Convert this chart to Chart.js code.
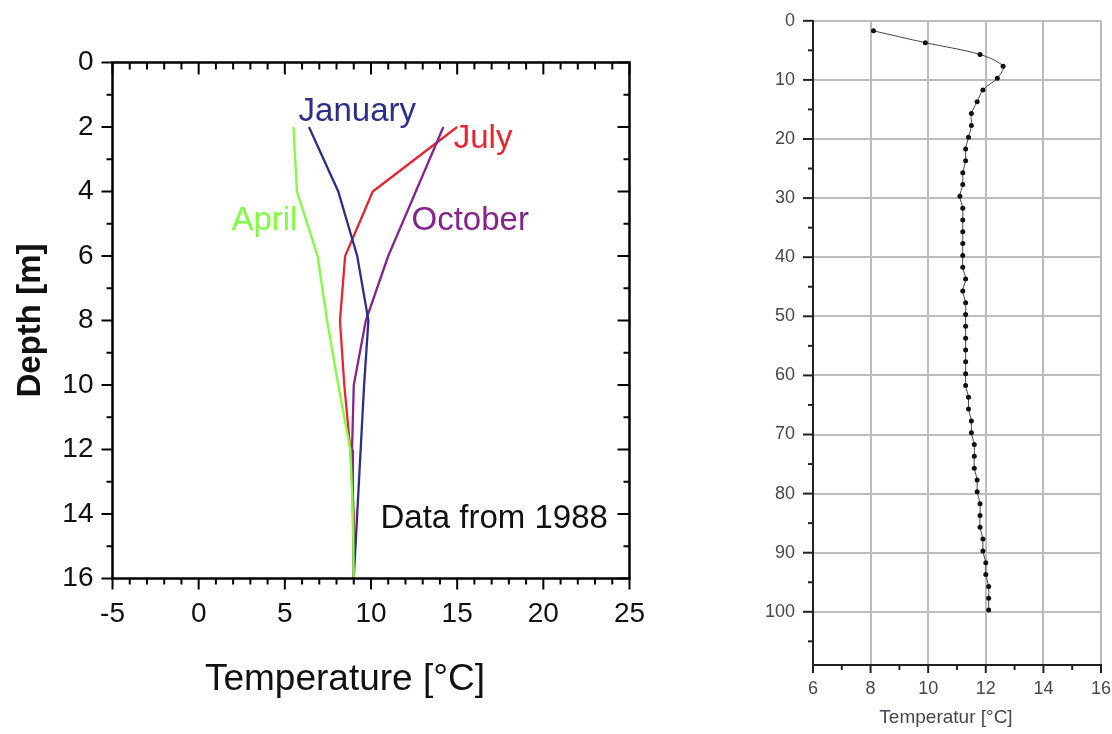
<!DOCTYPE html>
<html>
<head>
<meta charset="utf-8">
<script src="https://cdn.jsdelivr.net/npm/chart.js@4.4.1/dist/chart.umd.min.js"></script>
<style>
  html, body { margin: 0; padding: 0; background: #fff; }
  body { width: 1112px; height: 734px; position: relative; overflow: hidden; }
  .box { position: absolute; }
  #left { left: 0; top: 0; width: 740px; height: 734px; }
  #right { left: 740px; top: -8px; width: 384px; height: 742px; }
</style>
</head>
<body>
<div class="box" id="left"><canvas id="lakeChart"></canvas></div>
<div class="box" id="right"><canvas id="wellChart"></canvas></div>
<script>
const FONT = '"Liberation Sans", Arial, Helvetica, sans-serif';

// left panel - lake profiles, 1988
const depths = [2, 4, 6, 8, 10, 12, 14, 16];
const tempApril = [5.5, 5.7, 6.9, 7.45, 8.1, 8.8, 8.95, 9.0];
const tempJanuary = [6.4, 8.1, 9.2, 9.85, 9.6, 9.4, 9.2, 9.0];
const tempOctober = [14.2, 12.6, 11.0, 9.7, 9.0, 8.9, 8.95, 9.0];
const tempJuly = [15.0, 10.1, 8.5, 8.2, 8.45, 8.8, 9.0, 9.0];

const seriesNames = ['April', 'January', 'October', 'July'];
const seriesColors = ['#80ff40', '#2c2e8c', '#84248c', '#e82430'];
// where the series names sit (temperature, depth)
const noteTemps = [5.73, 5.8, 12.35, 14.8];
const noteDepths = [5.2, 1.82, 5.2, 2.65];

// right panel - borehole profile
const wellDepths = [1.7, 3.7, 5.7, 7.7, 9.7, 11.7, 13.7, 15.7, 17.7, 19.7,
  21.7, 23.7, 25.7, 27.7, 29.7, 31.7, 33.7, 35.7, 37.7, 39.7,
  41.7, 43.7, 45.7, 47.7, 49.7, 51.7, 53.7, 55.7, 57.7, 59.7,
  61.7, 63.7, 65.7, 67.7, 69.7, 71.7, 73.7, 75.7, 77.7, 79.7,
  81.7, 83.7, 85.7, 87.7, 89.7, 91.7, 93.7, 95.7, 97.7, 99.7];
const wellTemps = [8.1, 9.9, 11.8, 12.6, 12.4, 11.9, 11.7, 11.5, 11.5, 11.4,
  11.3, 11.3, 11.2, 11.2, 11.1, 11.2, 11.2, 11.2, 11.2, 11.2,
  11.2, 11.3, 11.2, 11.3, 11.3, 11.3, 11.3, 11.3, 11.3, 11.3,
  11.3, 11.4, 11.4, 11.5, 11.5, 11.6, 11.6, 11.6, 11.7, 11.7,
  11.8, 11.8, 11.8, 11.9, 11.9, 12.0, 12.0, 12.1, 12.1, 12.1];

function pairs(xs, ys) {
  return xs.map((x, i) => ({ x: x, y: ys[i] }));
}

// tick marks (major/minor, in or out) + optional frame
const tickMarks = {
  id: 'tickMarks',
  afterDraw(chart, args, opts) {
    const ctx = chart.ctx;
    const a = chart.chartArea;
    ctx.save();
    (opts.marks || []).forEach(m => {
      const scale = chart.scales[m.scale];
      const sign = (m.edge === 'bottom' || m.edge === 'right') ? 1 : -1;
      const dir = m.dir === 'out' ? sign : -sign;
      const n = Math.round((m.to - m.from) / m.step);
      ctx.lineWidth = m.width;
      ctx.strokeStyle = m.color;
      for (let i = 0; i <= n; i++) {
        const v = m.from + i * m.step;
        const r = v / m.major;
        const len = Math.abs(r - Math.round(r)) < 1e-6 ? m.majorLen : m.minorLen;
        const p = scale.getPixelForValue(v);
        ctx.beginPath();
        if (m.edge === 'bottom' || m.edge === 'top') {
          const y0 = m.edge === 'bottom' ? a.bottom : a.top;
          ctx.moveTo(p, y0);
          ctx.lineTo(p, y0 + dir * len);
        } else {
          const x0 = m.edge === 'left' ? a.left : a.right;
          ctx.moveTo(x0, p);
          ctx.lineTo(x0 + dir * len, p);
        }
        ctx.stroke();
      }
    });
    if (opts.frame) {
      ctx.lineWidth = opts.frame;
      ctx.strokeStyle = '#000';
      ctx.strokeRect(a.left, a.top, a.right - a.left, a.bottom - a.top);
    }
    ctx.restore();
  }
};

// free text: in data units (data: true) or canvas pixels
const notes = {
  id: 'notes',
  afterDraw(chart, args, opts) {
    const ctx = chart.ctx;
    ctx.save();
    (opts.items || []).forEach(n => {
      const x = n.data ? chart.scales.x.getPixelForValue(n.x) : n.x;
      const y = n.data ? chart.scales.y.getPixelForValue(n.y) : n.y;
      ctx.font = n.font;
      ctx.fillStyle = n.color;
      ctx.textAlign = n.align || 'left';
      ctx.textBaseline = 'alphabetic';
      ctx.fillText(n.text, x, y);
    });
    ctx.restore();
  }
};

const lakeSeries = [tempApril, tempJanuary, tempOctober, tempJuly];

new Chart(document.getElementById('lakeChart'), {
  type: 'line',
  data: {
    datasets: lakeSeries.map((temps, i) => ({
      label: seriesNames[i],
      data: pairs(temps, depths),
      borderColor: seriesColors[i],
      borderWidth: 2.3,
      pointRadius: 0,
      tension: 0,
      fill: false
    }))
  },
  options: {
    responsive: true,
    maintainAspectRatio: false,
    animation: false,
    layout: { padding: { left: 0, top: 62.5, right: 110.5, bottom: 0 } },
    plugins: {
      legend: { display: false },
      tooltip: { enabled: false },
      tickMarks: {
        frame: 2.5,
        marks: [
          { scale: 'x', edge: 'bottom', dir: 'out', from: -5, to: 25, step: 1, major: 5, majorLen: 11, minorLen: 6, width: 2, color: '#000' },
          { scale: 'x', edge: 'top', dir: 'in', from: -5, to: 25, step: 1, major: 5, majorLen: 12, minorLen: 7, width: 2, color: '#000' },
          { scale: 'y', edge: 'left', dir: 'out', from: 0, to: 16, step: 1, major: 2, majorLen: 11, minorLen: 6, width: 2, color: '#000' },
          { scale: 'y', edge: 'right', dir: 'in', from: 0, to: 16, step: 1, major: 2, majorLen: 12, minorLen: 6, width: 2, color: '#000' }
        ]
      },
      notes: {
        items: seriesNames.map((name, i) => ({
          text: name, x: noteTemps[i], y: noteDepths[i], data: true,
          font: '33px ' + FONT, color: seriesColors[i], align: i === 0 ? 'right' : 'left'
        })).concat([
          { text: 'Data from 1988', x: 10.55, y: 14.42, data: true, font: '33px ' + FONT, color: '#111' },
          { text: 'Temperature [°C]', x: 345, y: 690, font: '37px ' + FONT, color: '#111', align: 'center' }
        ])
      }
    },
    scales: {
      x: {
        type: 'linear',
        min: -5,
        max: 25,
        afterFit: s => { s.height = 155.5; },
        grid: { display: false, drawTicks: false },
        border: { display: false },
        ticks: { stepSize: 5, padding: 19, color: '#111', font: { family: FONT, size: 28 } }
      },
      y: {
        type: 'linear',
        reverse: true,
        min: 0,
        max: 16,
        afterFit: s => { s.width = 112.5; },
        grid: { display: false, drawTicks: false },
        border: { display: false },
        ticks: { stepSize: 2, padding: 19, color: '#111', font: { family: FONT, size: 28 } },
        title: { display: true, text: 'Depth [m]', color: '#111', padding: { top: 11, bottom: 0 }, font: { family: FONT, size: 33, weight: 'bold' } }
      }
    }
  },
  plugins: [tickMarks, notes]
});

const gridGray = '#bcbcbc';
const labelGray = '#45464f';

new Chart(document.getElementById('wellChart'), {
  type: 'line',
  data: {
    datasets: [{
      label: 'Temperatur',
      data: pairs(wellTemps, wellDepths),
      borderColor: '#444',
      borderWidth: 1,
      tension: 0.3,
      pointRadius: 2.5,
      pointBackgroundColor: '#111',
      pointBorderWidth: 0,
      fill: false
    }]
  },
  options: {
    responsive: true,
    maintainAspectRatio: false,
    animation: false,
    layout: { padding: { left: 0, top: 13, right: 1, bottom: 0 } },
    plugins: {
      legend: { display: false },
      tooltip: { enabled: false },
      tickMarks: {
        marks: [
          { scale: 'x', edge: 'bottom', dir: 'out', from: 6, to: 16, step: 1, major: 2, majorLen: 8, minorLen: 5, width: 2, color: '#222' },
          { scale: 'y', edge: 'left', dir: 'out', from: 0, to: 105, step: 5, major: 10, majorLen: 10, minorLen: 5, width: 2, color: '#222' }
        ]
      },
      notes: {
        items: [
          { text: 'Temperatur [°C]', x: 206, y: 731, font: '19px ' + FONT, color: labelGray, align: 'center' }
        ]
      }
    },
    scales: {
      x: {
        type: 'linear',
        min: 6,
        max: 16,
        afterFit: s => { s.height = 69; },
        grid: { color: gridGray, lineWidth: 2, drawTicks: false },
        border: { color: '#222', width: 2 },
        ticks: { stepSize: 2, padding: 13, color: labelGray, font: { family: FONT, size: 18 } }
      },
      y: {
        type: 'linear',
        reverse: true,
        min: 0,
        max: 109,
        afterFit: s => { s.width = 73; },
        grid: {
          color: c => (c.tick && c.tick.value % 10 === 0) ? gridGray : 'rgba(0,0,0,0)',
          lineWidth: 2,
          drawTicks: false
        },
        border: { color: '#222', width: 2 },
        ticks: {
          stepSize: 10,
          padding: 18,
          color: labelGray,
          font: { family: FONT, size: 18 },
          callback: v => (v > 100 ? '' : v)
        }
      }
    }
  },
  plugins: [tickMarks, notes]
});
</script>
</body>
</html>
